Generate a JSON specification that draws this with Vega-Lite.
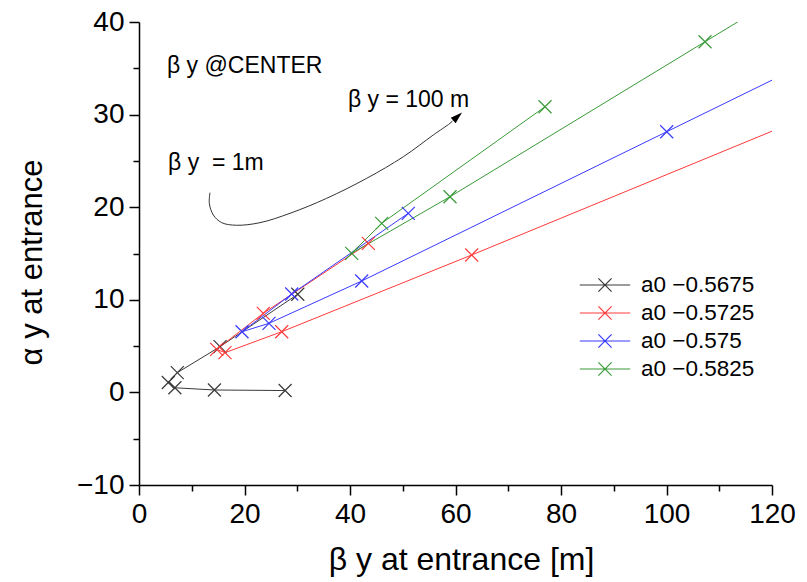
{
  "$schema": "https://vega.github.io/schema/vega-lite/v6.json",
  "width": 633,
  "height": 463,
  "autosize": "none",
  "padding": {"left": 139, "top": 22, "right": 35, "bottom": 97},
  "background": "white",
  "config": {"view": {"stroke": null}, "font": "Liberation Sans"},
  "datasets": {
    "traj": [
      {"s": "a0 −0.5675", "i": 0, "x": 27.7, "y": 0.2},
      {"s": "a0 −0.5675", "i": 1, "x": 14.3, "y": 0.26},
      {"s": "a0 −0.5675", "i": 2, "x": 6.8, "y": 0.5},
      {"s": "a0 −0.5675", "i": 3, "x": 5.55, "y": 1.07},
      {"s": "a0 −0.5675", "i": 4, "x": 7.26, "y": 2.13},
      {"s": "a0 −0.5675", "i": 5, "x": 15.36, "y": 4.94},
      {"s": "a0 −0.5675", "i": 6, "x": 30.1, "y": 10.6},
      {"s": "a0 −0.5725", "i": 0, "x": 43.47, "y": 16.1},
      {"s": "a0 −0.5725", "i": 1, "x": 23.56, "y": 8.54},
      {"s": "a0 −0.5725", "i": 2, "x": 14.73, "y": 4.65},
      {"s": "a0 −0.5725", "i": 3, "x": 16.3, "y": 4.29},
      {"s": "a0 −0.5725", "i": 4, "x": 27.05, "y": 6.55},
      {"s": "a0 −0.5725", "i": 5, "x": 63.07, "y": 14.84},
      {"s": "a0 −0.5725", "i": 6, "x": 160, "y": 37.6},
      {"s": "a0 −0.575", "i": 0, "x": 51.05, "y": 19.34},
      {"s": "a0 −0.575", "i": 1, "x": 28.95, "y": 10.63},
      {"s": "a0 −0.575", "i": 2, "x": 19.53, "y": 6.55},
      {"s": "a0 −0.575", "i": 3, "x": 24.64, "y": 7.46},
      {"s": "a0 −0.575", "i": 4, "x": 42.22, "y": 12.03},
      {"s": "a0 −0.575", "i": 5, "x": 100.04, "y": 28.15},
      {"s": "a0 −0.575", "i": 6, "x": 140, "y": 39.3},
      {"s": "a0 −0.5825", "i": 0, "x": 76.97, "y": 30.85},
      {"s": "a0 −0.5825", "i": 1, "x": 46.01, "y": 18.26},
      {"s": "a0 −0.5825", "i": 2, "x": 40.32, "y": 15.02},
      {"s": "a0 −0.5825", "i": 3, "x": 58.96, "y": 21.13},
      {"s": "a0 −0.5825", "i": 4, "x": 107.3, "y": 37.87},
      {"s": "a0 −0.5825", "i": 5, "x": 130, "y": 45.7}
    ],
    "curve": [
      {"i": 0, "x": 13.46, "y": 21.57},
      {"i": 1, "x": 13.33, "y": 20.42},
      {"i": 2, "x": 14.09, "y": 19.16},
      {"i": 3, "x": 15.68, "y": 18.33},
      {"i": 4, "x": 18.52, "y": 18.05},
      {"i": 5, "x": 22.94, "y": 18.33},
      {"i": 6, "x": 28.63, "y": 19.34},
      {"i": 7, "x": 35.58, "y": 20.96},
      {"i": 8, "x": 43.17, "y": 23.12},
      {"i": 9, "x": 50.11, "y": 25.45},
      {"i": 10, "x": 55.79, "y": 27.8},
      {"i": 11, "x": 58.96, "y": 29.06},
      {"i": 12, "x": 59.53, "y": 29.36}
    ],
    "arrow": [{"x": 60.4, "y": 29.8}],
    "notes": [
      {"x": 5.3, "y": 35.2, "t": "β y @CENTER"},
      {"x": 39.6, "y": 31.6, "t": "β y = 100 m"},
      {"x": 5.5, "y": 24.8, "t": "β y \u00a0= 1m"}
    ]
  },
  "encoding": {
    "x": {
      "field": "x", "type": "quantitative",
      "scale": {"domain": [0, 120], "nice": false, "zero": false},
      "axis": {
        "title": "β y at entrance [m]",
        "values": [0, 10, 20, 30, 40, 50, 60, 70, 80, 90, 100, 110, 120],
        "labelExpr": "datum.value % 20 === 0 ? datum.label : ''",
        "tickSize": {"condition": {"test": "datum.value % 20 === 0", "value": 10}, "value": 6},
        "grid": false, "labelOverlap": false, "labelFlush": false,
        "domainColor": "black", "domainWidth": 1.5, "tickColor": "black", "tickWidth": 1.5,
        "labelFontSize": 28, "labelColor": "black", "labelPadding": 5,
        "titleFontSize": 32, "titleFontWeight": "normal", "titleColor": "black",
        "titleX": 322, "titleY": 74, "titleBaseline": "middle", "titleAlign": "center"
      }
    },
    "y": {
      "field": "y", "type": "quantitative",
      "scale": {"domain": [-10, 40], "nice": false, "zero": false},
      "axis": {
        "title": "α y at entrance",
        "values": [-10, -5, 0, 5, 10, 15, 20, 25, 30, 35, 40],
        "labelExpr": "datum.value % 10 === 0 ? datum.label : ''",
        "tickSize": {"condition": {"test": "datum.value % 10 === 0", "value": 10}, "value": 6},
        "grid": false, "labelOverlap": false, "labelFlush": false,
        "domainColor": "black", "domainWidth": 1.5, "tickColor": "black", "tickWidth": 1.5,
        "labelFontSize": 28, "labelColor": "black", "labelPadding": 5,
        "titleFontSize": 31, "titleFontWeight": "normal", "titleColor": "black",
        "titleX": -107, "titleY": 240, "titleBaseline": "middle", "titleAlign": "center", "titleAngle": 270
      }
    }
  },
  "layer": [
    {
      "data": {"name": "traj"},
      "mark": {"type": "line", "strokeWidth": 1, "clip": true},
      "encoding": {
        "color": {
          "field": "s", "type": "nominal",
          "scale": {"domain": ["a0 −0.5675", "a0 −0.5725", "a0 −0.575", "a0 −0.5825"], "range": ["#3a3a3a", "#ff3a3a", "#3a3aff", "#3a9a3a"]},
          "legend": {
            "title": null, "orient": "none", "legendX": 441, "legendY": 250, "padding": 0,
            "symbolType": "M-2.1,0L2.1,0M-0.55,-0.55L0.55,0.55M-0.55,0.55L0.55,-0.55",
            "symbolSize": 576, "symbolStrokeWidth": 1.2, "symbolOffset": 12,
            "symbolFillColor": "transparent",
            "labelOffset": 23, "labelFontSize": 22.5, "labelColor": "black", "labelFont": "Liberation Sans",
            "rowPadding": 3
          }
        },
        "order": {"field": "i", "type": "quantitative"}
      }
    },
    {
      "data": {"name": "traj"},
      "mark": {"type": "point", "shape": "M-1,-1L1,1M-1,1L1,-1", "size": 169, "filled": false, "strokeWidth": 1.2, "opacity": 1, "clip": true},
      "encoding": {
        "color": {"field": "s", "type": "nominal"}
      }
    },
    {
      "data": {"name": "curve"},
      "mark": {"type": "line", "color": "#333333", "strokeWidth": 1, "interpolate": "catmull-rom"},
      "encoding": {"order": {"field": "i", "type": "quantitative"}}
    },
    {
      "data": {"name": "arrow"},
      "mark": {"type": "point", "shape": "M1,0L-1,-0.6L-1,0.6Z", "size": 144, "filled": true, "color": "black", "opacity": 1, "angle": 317.5},
      "encoding": {}
    },
    {
      "data": {"name": "notes"},
      "mark": {"type": "text", "align": "left", "baseline": "middle", "fontSize": 23, "color": "black", "font": "Liberation Sans"},
      "encoding": {"text": {"field": "t"}}
    }
  ]
}
